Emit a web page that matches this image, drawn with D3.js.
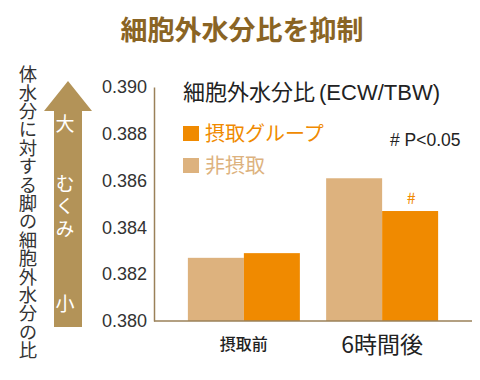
<!DOCTYPE html>
<html><head><meta charset="utf-8">
<script src="https://cdn.jsdelivr.net/npm/d3@7"></script>
<style>
html,body{margin:0;padding:0;background:#fff;}
svg text{font-family:"Noto Sans CJK JP","Noto Sans",sans-serif;}
</style></head>
<body><svg id="c" width="480" height="380"></svg>
<script>
const categories = ["摂取前", "6時間後"];
const seriesNames = ["非摂取", "摂取グループ"];
const nonIntake = [0.3827, 0.3861];
const intake = [0.3829, 0.3847];
const yTicks = [0.380, 0.382, 0.384, 0.386, 0.388, 0.390];
const significance = ["", "#"];

const svg = d3.select("#c");
const colors = {"非摂取": "#DDB27E", "摂取グループ": "#F08A00"};
const axisColor = "#9A8058";

const y = d3.scaleLinear().domain([0.380, 0.390]).range([321, 87]);
const x = d3.scaleBand().domain(categories).range([154, 472]).paddingInner(0.19).paddingOuter(0.245);
const xs = d3.scaleBand().domain(seriesNames).range([0, x.bandwidth()]);

// title
svg.append("text").attr("x", 242).attr("y", 40).attr("text-anchor", "middle")
  .attr("font-size", 27).attr("font-weight", "bold").attr("fill", "#8A6424")
  .text("細胞外水分比を抑制");

// left vertical label
svg.append("text").attr("x", 28).attr("y", 65)
  .style("writing-mode", "vertical-rl").attr("font-size", 18.4).attr("fill", "#333")
  .text("体水分に対する脚の細胞外水分の比");

// arrow
const ac = "#B39358";
svg.append("path").attr("fill", ac)
  .attr("d", `M68,81 L92,111 L82,111 L82,327 L54,327 L54,111 L44,111 Z`);
const at = svg.append("g").attr("fill", "#fff").attr("font-size", 19).attr("text-anchor", "middle");
at.append("text").attr("x", 65).attr("y", 131).text("大");
at.append("text").attr("x", 65).attr("y", 174).attr("text-anchor", "start")
  .style("writing-mode", "vertical-rl").style("letter-spacing", "3.5px").text("むくみ");
at.append("text").attr("x", 65).attr("y", 311).text("小");

// y axis
const yAxis = d3.axisLeft(y).tickValues(yTicks).tickFormat(d3.format(".3f")).tickSize(0).tickPadding(7);
const gy = svg.append("g").attr("transform", "translate(154,0)").call(yAxis);
gy.select(".domain").attr("stroke", axisColor).attr("stroke-width", 1.5);
gy.selectAll("text").attr("font-size", 18).attr("fill", "#333")
  .style("font-family", "'Liberation Sans', Arial, sans-serif");

// bars
const data = categories.map((c, i) => ({c, vals: [{s: "非摂取", v: nonIntake[i]}, {s: "摂取グループ", v: intake[i]}], sig: significance[i]}));
const g = svg.append("g");
data.forEach(d => {
  g.selectAll(null).data(d.vals).enter().append("rect")
    .attr("x", e => x(d.c) + xs(e.s)).attr("width", xs.bandwidth())
    .attr("y", e => y(e.v)).attr("height", e => y(0.380) - y(e.v))
    .attr("fill", e => colors[e.s]);
  if (d.sig) {
    svg.append("text").attr("x", x(d.c) + xs("摂取グループ") + xs.bandwidth() / 2 + 1)
      .attr("y", y(d.vals[1].v) - 7).attr("text-anchor", "middle")
      .attr("font-size", 16).attr("fill", "#F08A00").text(d.sig);
  }
});

// x axis
const xAxis = d3.axisBottom(x).tickSize(0).tickPadding(0);
const gx = svg.append("g").attr("transform", "translate(0,321)").call(xAxis);
gx.select(".domain").attr("d", "M154,0H472").attr("stroke", axisColor).attr("stroke-width", 1.5);
gx.selectAll(".tick text").attr("fill", "#222").attr("dy", null)
  .attr("y", d => d === "摂取前" ? 29 : 32)
  .attr("font-size", d => d === "摂取前" ? 16 : 23)
  .attr("font-weight", d => d === "摂取前" ? 500 : "normal");

// subtitle and legend
const sub = svg.append("text").attr("x", 183).attr("y", 100).attr("font-size", 22).attr("fill", "#222");
sub.append("tspan").text("細胞外水分比");
sub.append("tspan").attr("dx", 4).style("font-family", "'Liberation Sans', Arial, sans-serif")
  .attr("font-size", 22).text("(ECW/TBW)");
const leg = [{s: "摂取グループ", y: 134}, {s: "非摂取", y: 166}];
leg.forEach(l => {
  svg.append("rect").attr("x", 183).attr("y", l.y - 8).attr("width", 16).attr("height", 15).attr("fill", colors[l.s]);
  svg.append("text").attr("x", 205).attr("y", l.y + 7).attr("font-size", 20)
    .attr("fill", colors[l.s]).text(l.s);
});
svg.append("text").attr("x", 390).attr("y", 146).attr("font-size", 17.5).attr("fill", "#222")
  .style("font-family", "'Liberation Sans', Arial, sans-serif").text("# P<0.05");
</script></body></html>
